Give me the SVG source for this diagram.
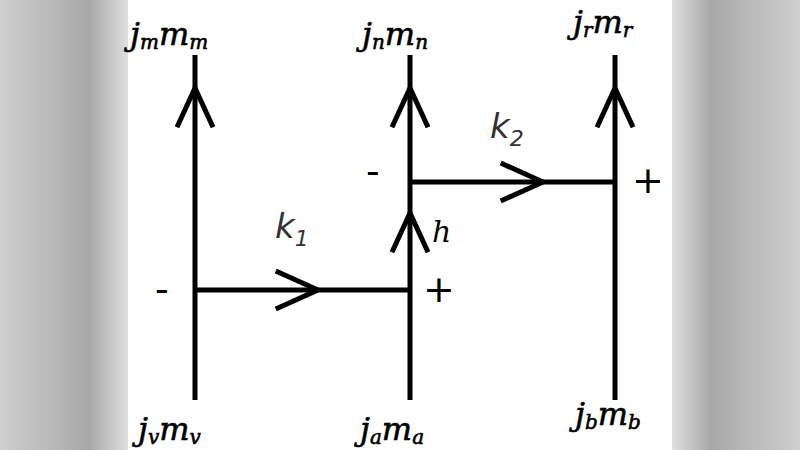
<svg xmlns="http://www.w3.org/2000/svg" width="800" height="450" viewBox="0 0 800 450">
<defs>
<style>
.ln{stroke:#000;stroke-width:5;fill:none}
.ah{stroke:#000;stroke-width:5;fill:none;stroke-linecap:square}
.t{font-family:"DejaVu Serif","Liberation Serif",serif;font-style:italic;font-size:32px;fill:#000;stroke:#000;stroke-width:0.6}
.s{font-size:20px}
.k{font-family:"DejaVu Sans","Liberation Sans",sans-serif;font-style:italic;font-size:34px;fill:#333}
.sg{font-family:"DejaVu Sans","Liberation Sans",sans-serif;font-size:38px;fill:#000}
</style>
<linearGradient id="bl" x1="0" x2="1"><stop offset="0" stop-color="#cfcfcf"/><stop offset="0.7" stop-color="#a8a8a8"/><stop offset="1" stop-color="#e0e0e0"/></linearGradient>
<linearGradient id="br" x1="0" x2="1"><stop offset="0" stop-color="#e0e0e0"/><stop offset="0.3" stop-color="#a8a8a8"/><stop offset="1" stop-color="#cfcfcf"/></linearGradient>
</defs>
<rect width="800" height="450" fill="#fff"/>
<rect x="0" y="0" width="128" height="450" fill="url(#bl)"/>
<rect x="672" y="0" width="128" height="450" fill="url(#br)"/>
<g id="connectors">
<line class="ln" x1="195" y1="55" x2="195" y2="400"/>
<line class="ln" x1="410" y1="55" x2="410" y2="400"/>
<line class="ln" x1="615" y1="55" x2="615" y2="400"/>
<line class="ln" x1="195" y1="290" x2="410" y2="290"/>
<line class="ln" x1="410" y1="182" x2="615" y2="182"/>
<polyline class="ah" points="178,125 195,88 212,125"/>
<polyline class="ah" points="393,125 410,88 427,125"/>
<polyline class="ah" points="598,125 615,88 632,125"/>
<polyline class="ah" points="393,250 410,213 427,250"/>
<polyline class="ah" points="278,272 318,290 278,308"/>
<polyline class="ah" points="503,164 543,182 503,200"/>
</g>
<g id="labels">
<text class="t" x="130" y="45">j<tspan class="s" dy="4">m</tspan><tspan dy="-4">m</tspan><tspan class="s" dy="4">m</tspan></text>
<text class="t" x="362" y="45">j<tspan class="s" dy="4">n</tspan><tspan dy="-4">m</tspan><tspan class="s" dy="4">n</tspan></text>
<text class="t" x="573" y="33">j<tspan class="s" dy="4">r</tspan><tspan dy="-4">m</tspan><tspan class="s" dy="4">r</tspan></text>
<text class="t" x="138" y="440">j<tspan class="s" dy="4">v</tspan><tspan dy="-4">m</tspan><tspan class="s" dy="4">v</tspan></text>
<text class="t" x="360" y="440">j<tspan class="s" dy="4">a</tspan><tspan dy="-4">m</tspan><tspan class="s" dy="4">a</tspan></text>
<text class="t" x="575" y="425">j<tspan class="s" dy="4">b</tspan><tspan dy="-4">m</tspan><tspan class="s" dy="4">b</tspan></text>
<text class="k" x="275" y="238">k<tspan font-size="22" dy="8">1</tspan></text>
<text class="k" x="490" y="138">k<tspan font-size="22" dy="8">2</tspan></text>
<text x="432" y="242" font-family="DejaVu Serif,serif" font-style="italic" font-size="30">h</text>
<text class="sg" x="155" y="302">-</text>
<text class="sg" x="423" y="302">+</text>
<text class="sg" x="366" y="184">-</text>
<text class="sg" x="632" y="193">+</text>
</g>
</svg>
